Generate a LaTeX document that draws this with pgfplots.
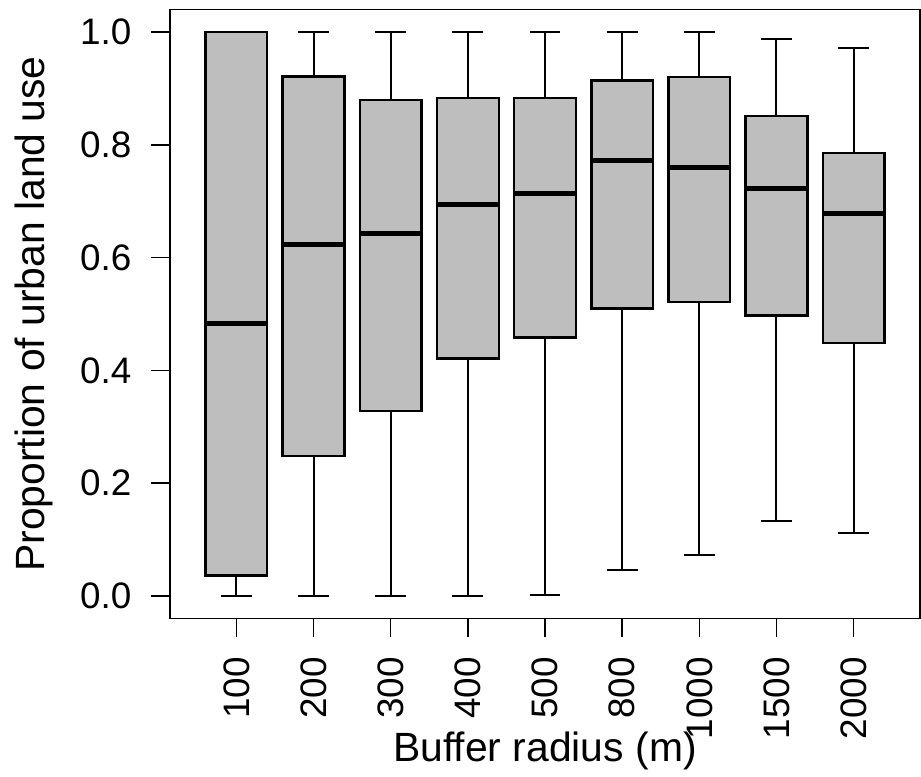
\documentclass[border=0pt]{standalone}
\usepackage{fontspec}
\setmainfont{Liberation Sans}
\usepackage{pgfplots}
\pgfplotsset{compat=1.18}
\usepgfplotslibrary{statistics}
\definecolor{boxgray}{RGB}{190,190,190}

\begin{document}
\begin{tikzpicture}
\begin{axis}[
  at={(0,0)}, anchor=south west,
  scale only axis,
  width=750bp, height=609bp,
  xmin=0.14, xmax=9.86,
  ymin=-0.04, ymax=1.04,
  axis line style={line width=1.6bp},
  tick style={line width=1.6bp, black},
  tick align=outside,
  major tick length=19bp,
  xtick pos=bottom, ytick pos=left,
  xtick={1,2,3,4,5,6,7,8,9},
  xticklabels={100,200,300,400,500,800,1000,1500,2000},
  ytick={0,0.2,0.4,0.6,0.8,1},
  yticklabel style={/pgf/number format/fixed,
    /pgf/number format/precision=1,
    /pgf/number format/fixed zerofill, xshift=-16bp},
  /pgf/number format/assume math mode=true,
  tick label style={font=\fontsize{37}{40}\selectfont},
  xticklabel style={yshift=-16bp, rotate=90, anchor=east},
  label style={font=\fontsize{41}{46}\selectfont},
  xlabel={Buffer radius (m)},
  xlabel style={at={(axis description cs:0.5,-0.2356)}, anchor=base},
  ylabel={Proportion of urban land use},
  ylabel style={at={(axis description cs:-0.1667,0.5)}, anchor=base},
  boxplot/draw direction=y,
  boxplot/box extend=0.8,
  boxplot/whisker extend=0.4,
  boxplot/every median/.style={line width=5bp},
  boxplot/every whisker/.style={line width=2bp},
  bx/.style={draw=black, fill=boxgray, line width=2.4bp, solid},
]
\addplot[bx, boxplot prepared={draw position=1, lower whisker=0.0, lower quartile=0.036,
  median=0.483, upper quartile=1.0, upper whisker=1.0}] coordinates {};
\addplot[bx, boxplot prepared={draw position=2, lower whisker=0.0, lower quartile=0.248,
  median=0.624, upper quartile=0.921, upper whisker=1.0}] coordinates {};
\addplot[bx, boxplot prepared={draw position=3, lower whisker=0.0, lower quartile=0.328,
  median=0.642, upper quartile=0.879, upper whisker=1.0}] coordinates {};
\addplot[bx, boxplot prepared={draw position=4, lower whisker=0.0, lower quartile=0.421,
  median=0.694, upper quartile=0.883, upper whisker=1.0}] coordinates {};
\addplot[bx, boxplot prepared={draw position=5, lower whisker=0.002, lower quartile=0.458,
  median=0.714, upper quartile=0.883, upper whisker=1.0}] coordinates {};
\addplot[bx, boxplot prepared={draw position=6, lower whisker=0.046, lower quartile=0.510,
  median=0.772, upper quartile=0.914, upper whisker=1.0}] coordinates {};
\addplot[bx, boxplot prepared={draw position=7, lower whisker=0.072, lower quartile=0.521,
  median=0.759, upper quartile=0.920, upper whisker=1.0}] coordinates {};
\addplot[bx, boxplot prepared={draw position=8, lower whisker=0.133, lower quartile=0.497,
  median=0.722, upper quartile=0.851, upper whisker=0.988}] coordinates {};
\addplot[bx, boxplot prepared={draw position=9, lower whisker=0.111, lower quartile=0.449,
  median=0.679, upper quartile=0.786, upper whisker=0.972}] coordinates {};
\end{axis}
\pgfresetboundingbox
\path (-170bp,-158.5bp) rectangle (751bp,618.5bp);
\end{tikzpicture}
\end{document}
